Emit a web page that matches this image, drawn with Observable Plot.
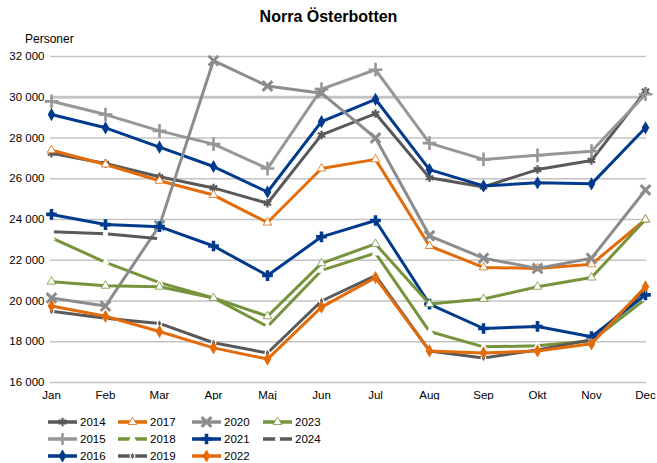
<!DOCTYPE html>
<html><head><meta charset="utf-8">
<script src="https://cdn.jsdelivr.net/npm/d3@7"></script>
<script src="https://cdn.jsdelivr.net/npm/@observablehq/plot@0.6"></script>
<style>
body{margin:0;background:#fff;font-family:"Liberation Sans",Arial,sans-serif;color:#000;}
#wrap{position:relative;width:657px;height:463px;overflow:hidden;}
#title{position:absolute;left:0;top:8px;width:657px;text-align:center;font-weight:bold;font-size:16px;z-index:2;}
#ylab{position:absolute;left:25px;top:32px;font-size:12px;z-index:2;}
#chart{position:absolute;left:0;top:28px;z-index:1;}
#legend{position:absolute;left:48px;top:413px;display:grid;grid-auto-flow:column;grid-template-rows:repeat(3,17px);grid-template-columns:70px 74px 71px 72px;font-size:11.5px;}
.li{display:flex;align-items:center;}
.li svg{margin-right:3px;}
</style></head>
<body><div id="wrap">
<div id="chart"></div>
<div id="title">Norra Österbotten</div>
<div id="ylab">Personer</div>
<div id="legend"></div>
</div>
<script>
const months = ["Jan","Feb","Mar","Apr","Maj","Jun","Jul","Aug","Sep","Okt","Nov","Dec"];
const years = ["2014","2015","2016","2017","2018","2019","2020","2021","2022","2023","2024"];
const yTicks = [16000,18000,20000,22000,24000,26000,28000,30000,32000];
const refLine = [30000];

const v2014 = [27250,26750,26100,25550,24800,28150,29200,26050,25600,26450,26900,30300];
const v2015 = [29800,29150,28350,27700,26500,30400,31350,27750,26950,27150,27350,30150];
const v2016 = [29150,28500,27550,26600,25350,28800,29900,26450,25650,25800,25750,28500];
const v2017 = [27400,26700,25900,25200,23850,26500,26950,22700,21650,21600,21800,24000];
const v2018 = [23100,21900,20900,20150,18750,21500,22350,18500,17750,17800,18050,20100];
const v2019 = [19500,19150,18900,17950,17450,20000,21250,17550,17200,17600,18100,20550];
const v2020 = [20150,19750,23700,31800,30550,30200,28000,23200,22100,21600,22100,25450];
const v2021 = [24250,23750,23650,22700,21250,23150,23950,19850,18650,18750,18250,20300];
const v2022 = [19750,19250,18500,17700,17150,19700,21150,17550,17450,17550,17900,20700];
const v2023 = [20950,20750,20700,20150,19250,21850,22800,19850,20100,20700,21150,24000];
const v2024 = [23400,23300,23050];

const values = {"2014":v2014,"2015":v2015,"2016":v2016,"2017":v2017,"2018":v2018,"2019":v2019,"2020":v2020,"2021":v2021,"2022":v2022,"2023":v2023,"2024":v2024};

const DG="#595959", LG="#979797", MG="#8c8c8c", BL="#003a8c", OR="#e26b0a", GR="#77933c";
const styles = {
  "2014":{color:DG, sym:"asterisk", r:4, fill:"none", stroke:DG, sw:2.2},
  "2015":{color:LG, sym:"plus", r:4.5, fill:"none", stroke:LG, sw:2.6},
  "2016":{color:BL, sym:"diamond", r:4, fill:BL, stroke:"none", sw:0},
  "2017":{color:OR, sym:"triangle", r:3.2, fill:"#fff", stroke:OR, sw:0.8},
  "2018":{color:GR, sym:"triangle", r:3, fill:"#fff", stroke:"none", sw:0},
  "2019":{color:DG, sym:"diamond", r:2.6, fill:DG, stroke:"#fff", sw:1.2},
  "2020":{color:MG, sym:"times", r:4.5, fill:"none", stroke:MG, sw:3},
  "2021":{color:BL, sym:"cross", r:4.5, fill:BL, stroke:"none", sw:0},
  "2022":{color:OR, sym:"diamond", r:4, fill:OR, stroke:"none", sw:0},
  "2023":{color:GR, sym:"triangle", r:3.2, fill:"#fff", stroke:GR, sw:0.8},
  "2024":{color:DG, sym:"circle", r:2.6, fill:"#fff", stroke:"none", sw:0}
};

const data = years.flatMap(y => values[y].map((v,i) => ({year:y, month:months[i], value:v})));
const fmt = d => d3.format(",")(d).replace(",", " ");

const seriesMarks = years.flatMap(y => {
  const s = styles[y];
  const d = data.filter(e => e.year === y);
  return [
    Plot.line(d, {x:"month", y:"value", stroke:s.color, strokeWidth:3, strokeLinejoin:"round"}),
    Plot.dot(d, {x:"month", y:"value", symbol:s.sym, r:s.r, fill:s.fill, stroke:s.stroke, strokeWidth:s.sw})
  ];
});

const chart = Plot.plot({
  width:657, height:372,
  marginLeft:50, marginRight:11, marginTop:28, marginBottom:18,
  style:{fontFamily:'"Liberation Sans",Arial,sans-serif', fontSize:"11.5px", color:"#000", background:"transparent"},
  x:{type:"point", domain:months, padding:0, label:null, tickSize:0, tickPadding:8},
  y:{domain:[16000,32000], ticks:yTicks, tickFormat:fmt, label:null, tickSize:0, tickPadding:6},
  marks:[
    Plot.ruleY(yTicks, {stroke:"#c4c4c4", strokeWidth:1.5}),
    Plot.ruleY(refLine, {stroke:"#c4c4c4", strokeWidth:3}),
    ...seriesMarks
  ]
});
document.getElementById("chart").appendChild(chart);

const symMap = {asterisk:d3.symbolAsterisk, plus:d3.symbolPlus, diamond:d3.symbolDiamond, triangle:d3.symbolTriangle, times:d3.symbolTimes, cross:d3.symbolCross, circle:d3.symbolCircle};
const leg = d3.select("#legend");
years.forEach(y => {
  const s = styles[y];
  const item = leg.append("div").attr("class","li");
  const svg = item.append("svg").attr("width",29).attr("height",12);
  svg.append("line").attr("x1",0).attr("x2",29).attr("y1",6).attr("y2",6).attr("stroke",s.color).attr("stroke-width",3.5);
  svg.append("path").attr("transform","translate(14.5,6)")
    .attr("d", d3.symbol(symMap[s.sym], s.r*s.r*Math.PI)())
    .attr("fill", s.fill).attr("stroke", s.stroke).attr("stroke-width", s.sw);
  item.append("span").text(y);
});
</script>
</body></html>
